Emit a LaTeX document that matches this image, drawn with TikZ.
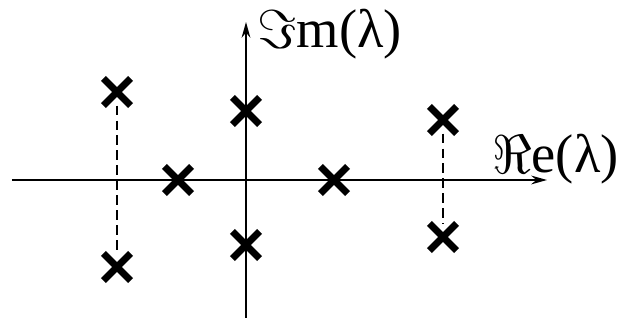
\documentclass[tikz,border=0pt]{standalone}
\usepackage{graphicx}
\usepackage{fontspec}
\setmainfont{Liberation Serif}
\usetikzlibrary{shapes.misc,arrows.meta}
\newcommand{\frak}[1]{\raisebox{-0.02em}{\scalebox{1.25}{$#1$}}}
\begin{document}
\begin{tikzpicture}[x=0.02cm,y=0.02cm,
  pole/.style={cross out,draw,line width=4pt,minimum size=10.5pt,inner sep=0pt,outer sep=2.5pt},
  axis/.style={line width=1.1pt,-{Stealth[length=9pt,width=5pt,inset=3pt]}},
  pair/.style={line width=1.3pt,dash pattern=on 5.5pt off 3pt},
  lab/.style={inner sep=0pt,font=\fontsize{31}{34}\selectfont}]
\useasboundingbox (-246,-140) rectangle (374,180);
% axes
\coordinate (xl) at (-234,0);
\coordinate (xr) at (301,0);
\coordinate (yb) at (0,-138);
\coordinate (yt) at (0,158);
\draw[axis] (xl) -- (xr);
\draw[axis] (yb) -- (yt);
\node[lab,anchor=west] (relab) at (246,21) {\frak{\Re}e(λ)};
\node[lab,anchor=west] (imlab) at (11,146) {\frak{\Im}m(λ)};

% eigenvalues
\node[pole] (a1) at (-129,88) {};
\node[pole] (a2) at (-129,-87) {};
\node[pole] (b) at (-68,0) {};
\node[pole] (c1) at (0,69) {};
\node[pole] (c2) at (0,-65) {};
\node[pole] (d) at (88,0) {};
\node[pole] (e1) at (197,60) {};
\node[pole] (e2) at (197,-57) {};
\draw[pair] (a1) -- (a2);
\draw[pair] (e1) -- (e2);
\end{tikzpicture}
\end{document}
